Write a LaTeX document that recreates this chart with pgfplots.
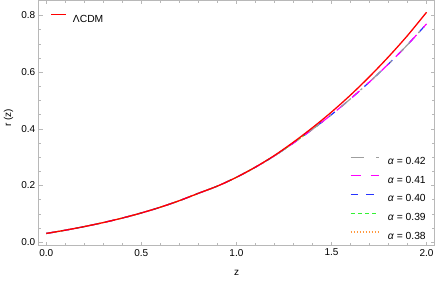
\documentclass[border=0pt]{standalone}
\usepackage{fontspec}
\setmainfont{Liberation Sans}
\usepackage{pgfplots}
\usepackage{pgfplotstable}
\pgfplotsset{compat=1.18}

\definecolor{frm}{gray}{0.72}
\definecolor{mgray}{gray}{0.62}
\definecolor{mora}{rgb}{1,0.6,0.25}
\definecolor{mgreen}{rgb}{0.2,0.95,0.2}
\definecolor{mblue}{rgb}{0.15,0.2,1}
\definecolor{mmag}{rgb}{1,0,1}

\pgfplotstableread{
z r
0.0 0.031
0.1 0.0425
0.2 0.0552
0.3 0.0694
0.4 0.0853
0.5 0.1033
0.6 0.1236
0.7 0.1466
0.8 0.1726
0.9 0.198
1.0 0.229
1.1 0.265
1.2 0.306
1.3 0.353
1.4 0.404
1.5 0.459
1.6 0.519
1.7 0.584
1.8 0.654
1.9 0.729
2.0 0.811
}\lcdm

\pgfplotstableread{
z r
0.0 0.031
0.1 0.0425
0.2 0.0552
0.3 0.0694
0.4 0.0853
0.5 0.1033
0.6 0.1236
0.7 0.1466
0.8 0.1726
0.9 0.198
1.0 0.229
1.1 0.2647
1.2 0.3048
1.3 0.350
1.4 0.3985
1.5 0.450
1.6 0.5057
1.7 0.5653
1.8 0.6289
1.9 0.6965
2.0 0.770
}\alfull

\pgfplotstableread{
z r
0.0 0.031
0.1 0.0425
0.2 0.0552
0.3 0.0694
0.4 0.0853
0.5 0.1033
0.6 0.1236
0.7 0.1466
0.8 0.1726
0.9 0.198
1.0 0.229
1.1 0.2647
1.2 0.3048
1.3 0.350
1.4 0.3985
1.47 0.434
}\algreen

\pgfplotstableread{
z r
0.0 0.031
0.1 0.0425
0.2 0.0552
0.3 0.0694
0.4 0.0853
0.5 0.1033
0.6 0.1236
0.7 0.1466
0.8 0.1726
0.9 0.198
1.0 0.229
1.1 0.2647
1.2 0.3048
1.3 0.350
1.35 0.374
}\alorange

\pgfplotsset{
  common/.style={
    scale only axis, width=396.3pt, height=245.5pt,
    xmin=-0.04, xmax=2.043, ymin=-0.0116, ymax=0.8536,
    legend cell align=left,
  },
}

\newcommand{\lbl}{\fontsize{10}{12}\selectfont}
\newcommand{\lgd}{\fontsize{10.3}{12}\selectfont}

\begin{document}
\begin{tikzpicture}
\begin{axis}[common,
  xtick={0,0.5,1,1.5,2}, minor x tick num=4,
  ytick={0,0.2,0.4,0.6,0.8}, minor y tick num=3,
  axis line style={frm, line width=0.6pt},
  tick style={frm, line width=0.5pt},
  major tick length=4pt, minor tick length=2.5pt,
  /pgf/number format/.cd, fixed, fixed zerofill, precision=1, assume math mode=true,
  /pgfplots/.cd,
  tick label style={font=\lbl},
  label style={font=\lbl},
  xlabel={z}, ylabel={r (z)},
  xlabel style={at={(axis description cs:0.4996,-0.111)}, anchor=center},
  ylabel style={at={(axis description cs:-0.076,0.52)}, anchor=center},
  legend image code/.code={\draw[#1] (0pt,3.6pt) -- (28.3pt,3.6pt);},
  reverse legend,
  legend style={draw=none, fill=none, inner sep=0pt, outer sep=0pt,
    anchor=north east, at={(axis description cs:0.9773,0.3627)},
    row sep=10.9pt,
    nodes={inner sep=0pt, text height=7.3pt, text depth=0pt, font=\lgd},
    /tikz/every odd column/.style={column sep=8.4pt}},
]
\addplot[draw=mora, line width=1.1pt, dash pattern=on 1.5pt off 1.5pt, smooth] table {\alorange};
\addlegendentry{\textit{α} = 0.38}
\addplot[draw=mgreen, line width=1.2pt, dash pattern=on 4pt off 3.3pt, smooth] table {\algreen};
\addlegendentry{\textit{α} = 0.39}
\addplot[draw=mblue, line width=1.2pt, dash pattern=on 7.5pt off 8pt, smooth] table {\alfull};
\addlegendentry{\textit{α} = 0.40}
\addplot[draw=mmag, line width=1.2pt, dash pattern=on 10pt off 10pt, smooth] table {\alfull};
\addlegendentry{\textit{α} = 0.41}
\addplot[draw=mgray, line width=1.2pt, dash pattern=on 13pt off 12.7pt on 2.3pt off 12.7pt, smooth] table {\alfull};
\addlegendentry{\textit{α} = 0.42}
\end{axis}
\begin{axis}[common, hide axis,
  legend style={draw=none, fill=none, inner sep=0pt, outer sep=0pt,
    anchor=north west, at={(axis description cs:0.0303,0.943)},
    nodes={inner sep=0pt, text height=7.3pt, text depth=0pt, font=\lgd},
    /tikz/every odd column/.style={column sep=6pt}},
  legend image code/.code={\draw[#1] (0pt,3.6pt) -- (15pt,3.6pt);},
]
\addplot[draw=red, line width=1.3pt, smooth] table {\lcdm};
\addlegendentry{ΛCDM}
\end{axis}
\pgfresetboundingbox
\path[use as bounding box] (-38.7pt,-35.3pt) rectangle (397.6pt,245.7pt);
\end{tikzpicture}
\end{document}
